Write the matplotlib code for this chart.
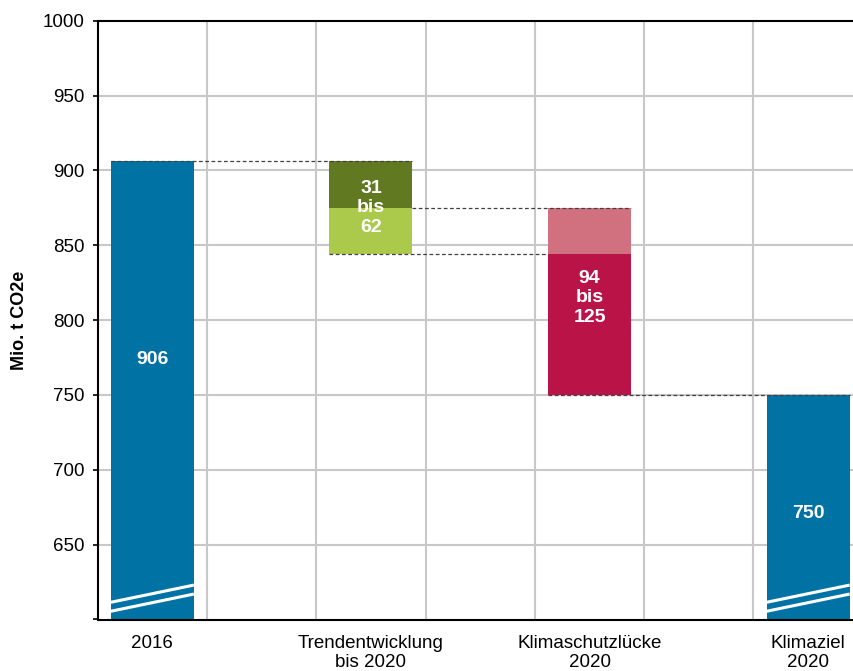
import matplotlib
matplotlib.use("Agg")
import matplotlib.pyplot as plt

plt.rcParams['font.family'] = ['Liberation Sans', 'DejaVu Sans']

# ---- data ----
categories = ["2016", "Trendentwicklung\nbis 2020", "Klimaschutzlücke\n2020", "Klimaziel\n2020"]
emissions_2016 = 906
trend_range = [31, 62]        # reduction by trend (min, max)
gap_range = [94, 125]         # climate protection gap (min, max)
target_2020 = 750
yticks = [600, 650, 700, 750, 800, 850, 900, 950, 1000]

# ---- style ----
BLUE = "#0073A4"
DKGREEN = "#617A22"
LTGREEN = "#ABC94B"
PINK = "#D1717F"
CRIMSON = "#B91347"
GRID = "#C8C8C8"

x = [0.5, 2.5, 4.5, 6.5]
w = 0.76

fig = plt.figure(figsize=(8.54, 6.71), dpi=100)
ax = fig.add_axes([97.7 / 854, (671 - 619.5) / 671, (862.8 - 97.7) / 854, (619.5 - 20.7) / 671])
ax.set_xlim(0, 7)
ax.set_ylim(600, 1000)

# grid
for gx in range(1, 8):
    ax.axvline(gx, color=GRID, lw=1.5, zorder=0)
for gy in yticks[1:-1]:
    ax.axhline(gy, color=GRID, lw=1.5, zorder=0)

# bars
ax.bar(x[0], emissions_2016 - 600, bottom=600, width=w, color=BLUE, zorder=2)
t_lo, t_hi = trend_range
ax.bar(x[1], t_lo, bottom=emissions_2016 - t_lo, width=w, color=DKGREEN, zorder=2)
ax.bar(x[1], t_hi - t_lo, bottom=emissions_2016 - t_hi, width=w, color=LTGREEN, zorder=2)
g_lo, g_hi = gap_range
ax.bar(x[2], g_lo, bottom=target_2020, width=w, color=CRIMSON, zorder=2)
ax.bar(x[2], g_hi - g_lo, bottom=target_2020 + g_lo, width=w, color=PINK, zorder=2)
ax.bar(x[3], target_2020 - 600, bottom=600, width=w, color=BLUE, zorder=2)

# axis break marks on blue bars
for xi in (x[0], x[3]):
    for y0, y1 in ((605.5, 617.0), (611.5, 623.0)):
        ax.plot([xi - w / 2, xi + w / 2], [y0, y1], color="white", lw=2.2,
                solid_capstyle="butt", zorder=3)

# dashed connectors
dash = dict(color="#404040", lw=0.9, ls=(0, (3, 2)), zorder=4)
ax.plot([x[0] - w / 2, x[1] + w / 2], [emissions_2016] * 2, **dash)
ax.plot([x[1] + w / 2, x[2] + w / 2], [emissions_2016 - t_lo] * 2, **dash)
ax.plot([x[1] - w / 2, x[2] - w / 2], [emissions_2016 - t_hi] * 2, **dash)
ax.plot([x[2] - w / 2, x[3] + w / 2], [target_2020] * 2, **dash)

# bar labels
lab = dict(color="white", fontsize=14, fontweight="bold", ha="center", va="center", zorder=5)
ax.text(x[0], 774, f"{emissions_2016}", **lab)
ax.text(x[1], emissions_2016 - t_lo, f"{t_lo}\nbis\n{t_hi}", **lab)
ax.text(x[2], 815, f"{g_lo}\nbis\n{g_hi}", **lab)
ax.text(x[3], 671, f"{target_2020}", **lab)

# axes styling
ax.set_yticks(yticks)
ax.set_yticklabels([""] + [str(v) for v in yticks[1:]])
ax.set_xticks(x)
ax.set_xticklabels(categories)
ax.tick_params(axis="y", length=3.6, width=1.2, pad=6, labelsize=13.5, colors="black")
ax.tick_params(axis="x", length=0, pad=11, labelsize=13.5, colors="black")
for s in ("left", "bottom", "top"):
    ax.spines[s].set_linewidth(1.5)
    ax.spines[s].set_color("black")
    ax.spines[s].set_zorder(6)
ax.spines["right"].set_visible(False)

fig.text(20 / 854, 1 - 320 / 671, "Mio. t CO2e", rotation=90, ha="center", va="center",
         fontsize=13, fontweight="bold")

fig.savefig("out.png", dpi=100)
